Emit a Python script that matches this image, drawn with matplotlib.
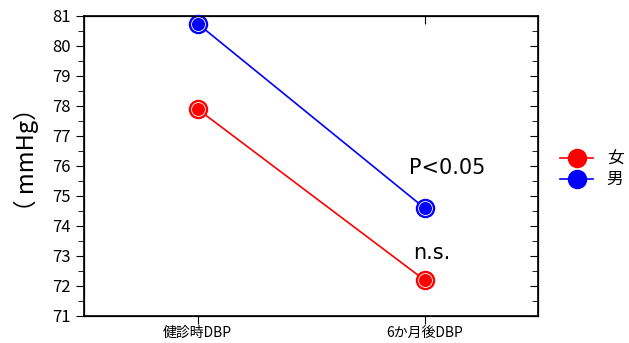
import matplotlib.pyplot as plt
from matplotlib.ticker import MultipleLocator

plt.rcParams['font.family'] = ['Noto Sans CJK JP', 'DejaVu Sans']

# データ
categories = ['健診時DBP', '6か月後DBP']
female = [77.9, 72.2]
male = [80.75, 74.6]
labels = ['女', '男']

fig = plt.figure(figsize=(6.29, 3.43), dpi=100)
ax = fig.add_axes([84/629, 27/343, 454/629, 300/343])

x = range(len(categories))
for vals, c, lab in [(female, 'red', labels[0]), (male, 'blue', labels[1])]:
    ax.plot(x, vals, color=c, lw=1.2, marker='o', ms=13, mfc=c,
            mec=c, mew=1.0, label=lab, zorder=3, clip_on=False)
    # 白いハイライト
    ax.plot(x, vals, ls='none', marker='o', ms=10, mfc='none',
            mec='white', mew=0.6, zorder=4, clip_on=False)

ax.set_xlim(-0.5, 1.5)
ax.set_ylim(71, 81)
ax.set_xticks(list(x))
ax.set_xticklabels(categories, fontsize=10)
ax.yaxis.set_major_locator(MultipleLocator(1))
ax.yaxis.set_minor_locator(MultipleLocator(0.5))
ax.tick_params(axis='y', which='both', direction='out', left=True, right=False, labelsize=12)
ax.tick_params(axis='y', which='major', length=6)
ax.tick_params(axis='y', which='minor', length=4)
ax.tick_params(axis='x', direction='out', length=6, top=False, pad=1)
for s in ax.spines.values():
    s.set_linewidth(1.2)

# 右軸の内向き目盛り
ax2 = ax.twinx()
ax2.set_ylim(71, 81)
ax2.yaxis.set_major_locator(MultipleLocator(1))
ax2.yaxis.set_minor_locator(MultipleLocator(0.5))
ax2.tick_params(axis='y', which='both', direction='in', labelright=False)
ax2.tick_params(axis='y', which='major', length=6)
ax2.tick_params(axis='y', which='minor', length=4)
# 上軸の目盛り
ax3 = ax.twiny()
ax3.set_xlim(-0.5, 1.5)
ax3.set_xticks([1])
ax3.tick_params(axis='x', direction='in', length=6, labeltop=False)

ax.set_ylabel('（ mmHg）', fontsize=17)
ax.yaxis.set_label_coords(-0.1, 0.52)

ax.text(1.1, 75.95, 'P<0.05', fontsize=15, ha='center', va='center', family='DejaVu Sans')
ax.text(1.03, 73.1, 'n.s.', fontsize=15, ha='center', va='center', family='DejaVu Sans')

h, l = ax.get_legend_handles_labels()
fig.legend(h, l, loc='upper left', bbox_to_anchor=(545/629, 1 - 136/343), frameon=False,
           fontsize=12, handlelength=2.0, handletextpad=0.8, labelspacing=0.2)

fig.savefig('out.png', dpi=100)
